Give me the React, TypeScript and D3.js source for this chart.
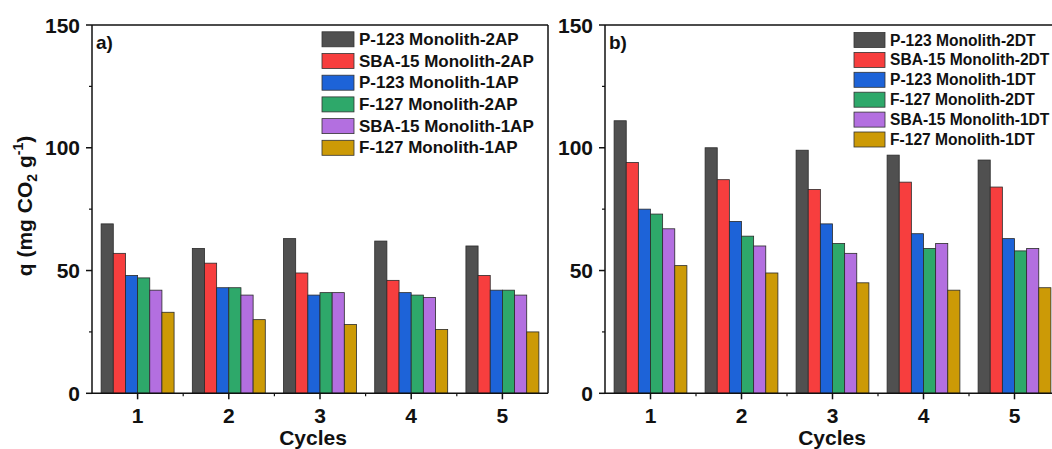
import React from "react";
import * as d3 from "d3";

const cycles = [1, 2, 3, 4, 5];
const seriesA = [
  "P-123 Monolith-2AP",
  "SBA-15 Monolith-2AP",
  "P-123 Monolith-1AP",
  "F-127 Monolith-2AP",
  "SBA-15 Monolith-1AP",
  "F-127 Monolith-1AP",
];
const seriesB = [
  "P-123 Monolith-2DT",
  "SBA-15 Monolith-2DT",
  "P-123 Monolith-1DT",
  "F-127 Monolith-2DT",
  "SBA-15 Monolith-1DT",
  "F-127 Monolith-1DT",
];
// values per series across cycles 1..5
const valuesA = [
  [69, 59, 63, 62, 60],
  [57, 53, 49, 46, 48],
  [48, 43, 40, 41, 42],
  [47, 43, 41, 40, 42],
  [42, 40, 41, 39, 40],
  [33, 30, 28, 26, 25],
];
const valuesB = [
  [111, 100, 99, 97, 95],
  [94, 87, 83, 86, 84],
  [75, 70, 69, 65, 63],
  [73, 64, 61, 59, 58],
  [67, 60, 57, 61, 59],
  [52, 49, 45, 42, 43],
];
const colors = ["#505050", "#f73e3e", "#1d63d8", "#2ea86a", "#b36fe0", "#cc9a06"];
const yTicks = [0, 50, 100, 150];
const yMinor = [25, 75, 125];

const FONT = "'Liberation Sans', Arial, sans-serif";

type PanelProps = {
  x0: number;
  x1: number;
  label: string;
  series: string[];
  values: number[][];
  legendX: number;
  legendY: number;
  legendStep: number;
  legendFont: number;
  swatchW: number;
  xTitleX: number;
  rightFrame: boolean;
};

function Panel(p: PanelProps) {
  const yTop = 25;
  const yBot = 393.3;
  const y = d3.scaleLinear().domain([0, 150]).range([yBot, yTop]);
  const x = d3.scaleLinear().domain([0.5, 5.5]).range([p.x0, p.x1]);
  const groupW = (x(2) - x(1)) * 0.8;
  const inner = d3
    .scaleBand<number>()
    .domain(d3.range(p.series.length))
    .range([-groupW / 2, groupW / 2])
    .padding(0);
  const minorX = [1.5, 2.5, 3.5, 4.5];
  return (
    <g fontFamily={FONT} fontWeight="bold">
      {p.values.map((vals, si) =>
        vals.map((v, ci) => (
          <rect
            key={`${si}-${ci}`}
            x={x(cycles[ci]) + (inner(si) as number)}
            y={y(v)}
            width={inner.bandwidth()}
            height={y(0) - y(v)}
            fill={colors[si]}
            stroke="#2a2a2a"
            strokeWidth={0.8}
          />
        ))
      )}
      {/* frame */}
      <line x1={p.x0} x2={p.x0} y1={yTop} y2={yBot} stroke="#111" strokeWidth={1.5} />
      <line x1={p.x0} x2={p.x1} y1={yBot} y2={yBot} stroke="#111" strokeWidth={1.5} />
      <line x1={p.x0} x2={p.x1} y1={yTop} y2={yTop} stroke="#111" strokeWidth={1.5} />
      {p.rightFrame && (
        <line x1={p.x1} x2={p.x1} y1={yTop} y2={yBot} stroke="#111" strokeWidth={1.5} />
      )}
      {/* y ticks */}
      {yTicks.map((t) => (
        <g key={t}>
          <line x1={p.x0 - 6} x2={p.x0} y1={y(t)} y2={y(t)} stroke="#111" strokeWidth={1.5} />
          <text
            x={p.x0 - 12}
            y={y(t)}
            textAnchor="end"
            dominantBaseline="central"
            fontSize={21}
            fill="#111"
          >
            {t}
          </text>
        </g>
      ))}
      {yMinor.map((t) => (
        <line key={t} x1={p.x0 - 3} x2={p.x0} y1={y(t)} y2={y(t)} stroke="#111" strokeWidth={1.2} />
      ))}
      {/* x ticks */}
      {cycles.map((c) => (
        <g key={c}>
          <line x1={x(c)} x2={x(c)} y1={yBot} y2={yBot + 6} stroke="#111" strokeWidth={1.5} />
          <text x={x(c)} y={423} textAnchor="middle" fontSize={21} fill="#111">
            {c}
          </text>
        </g>
      ))}
      {minorX.map((c) => (
        <line key={c} x1={x(c)} x2={x(c)} y1={yBot} y2={yBot + 3} stroke="#111" strokeWidth={1.2} />
      ))}
      <text x={p.xTitleX} y={445} textAnchor="middle" fontSize={21} fill="#111">
        Cycles
      </text>
      <text x={p.x0 + 4} y={49} fontSize={19} fill="#111">
        {p.label}
      </text>
      {/* legend */}
      {p.series.map((s, i) => {
        const cy = p.legendY + i * p.legendStep;
        return (
          <g key={s}>
            <rect
              x={p.legendX}
              y={cy - 7.5}
              width={p.swatchW}
              height={15}
              fill={colors[i]}
              stroke="#333"
              strokeWidth={0.8}
            />
            <text
              x={p.legendX + p.swatchW + 5}
              y={cy}
              dominantBaseline="central"
              fontSize={p.legendFont}
              fill="#111"
            >
              {s}
            </text>
          </g>
        );
      })}
    </g>
  );
}

export default function App() {
  return (
    <div style={{ position: "absolute", left: 0, top: 0 }}>
      <svg width={1052} height={449} style={{ display: "block", background: "#fff" }}>
        <Panel
          x0={92}
          x1={548}
          label="a)"
          series={seriesA}
          values={valuesA}
          legendX={322}
          legendY={39.3}
          legendStep={21.7}
          legendFont={17}
          swatchW={32}
          xTitleX={313}
          rightFrame={true}
        />
        <Panel
          x0={605}
          x1={1060}
          label="b)"
          series={seriesB}
          values={valuesB}
          legendX={854}
          legendY={40}
          legendStep={19.9}
          legendFont={15.6}
          swatchW={31}
          xTitleX={832}
          rightFrame={true}
        />
        <text
          transform="translate(32,206) rotate(-90)"
          textAnchor="middle"
          fontFamily={FONT}
          fontWeight="bold"
          fontSize={21}
          fill="#111"
        >
          q (mg CO
          <tspan fontSize={14} dy={5}>2</tspan>
          <tspan dy={-5}> g</tspan>
          <tspan fontSize={14} dy={-9}>-1</tspan>
          <tspan dy={9}>)</tspan>
        </text>
      </svg>
    </div>
  );
}
